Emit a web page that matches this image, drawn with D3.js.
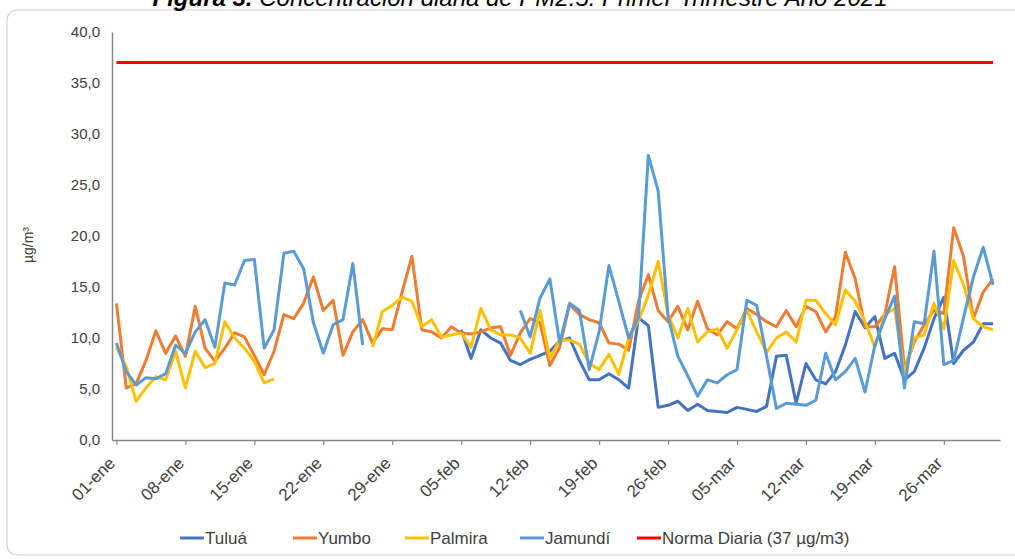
<html>
  <head>
    <script src='https://d3js.org/d3.v7.min.js'></script>
    <style>
      body { margin: 0; background: #fff; }
      text { font-family: 'Liberation Sans', Arial, sans-serif; fill: #404040; }
    </style>
  </head>
  <body>
    <svg width=1015 height=559></svg>
    <script>
      // PM2.5 diario, 01-ene a 31-mar 2021 (90 dias), null = sin dato
      const DAYS = d3.range(90);
      const TICK_DAYS = [0, 7, 14, 21, 28, 35, 42, 49, 56, 63, 70, 77, 84];
      const TICK_LABELS = ['01-ene', '08-ene', '15-ene', '22-ene', '29-ene', '05-feb', '12-feb',
                           '19-feb', '26-feb', '05-mar', '12-mar', '19-mar', '26-mar'];
      const Y_TICKS = [0, 5, 10, 15, 20, 25, 30, 35, 40];
      const NORMA = 37;

      const TULUA = [
        null, null, null, null, null, null, null, null, null, null,
        null, null, null, null, null, null, null, null, null, null,
        null, null, null, null, null, null, null, null, null, null,
        null, null, null, null, null,
        10.8, 8.0, 10.8, 10.0, 9.5, 7.8, 7.4, 7.9, 8.3, 8.7,
        9.7, 10.0, 7.8, 5.9, 5.9, 6.5, 5.9, 5.1, 12.0, 11.2,
        3.2, 3.4, 3.8, 2.9, 3.5, 2.9, 2.8, 2.7, 3.2, 3.0,
        2.8, 3.3, 8.2, 8.3, 3.6, 7.5, 5.9, 5.5, 6.7, 9.3,
        12.6, 11.0, 12.1, 8.0, 8.5, 5.9, 6.7, 9.0, 11.9, 14.0,
        7.5, 8.8, 9.6, 11.4, 11.4
      ];
      const YUMBO = [
        13.4, 5.1, 5.5, 7.8, 10.7, 8.5, 10.2, 8.2, 13.1, 9.0,
        7.7, 9.0, 10.5, 10.1, 8.3, 6.4, 8.7, 12.3,
        11.9, 13.4, 16.0, 12.7, 13.7, 8.3, 10.6, 11.8, 9.5, 10.9,
        10.8, 14.5, 18.0, 10.8, 10.6, 10.0, 11.1, 10.5,
        10.4, 10.6, 11.0, 11.1, 8.3, 10.5, 11.9, 11.5, 7.3, 9.1,
        13.3, 12.3, 11.8, 11.5, 9.5, 9.4, 8.8, 13.6,
        16.2, 12.7, 11.6, 13.1, 10.8, 13.6, 10.9, 10.3, 11.6, 10.9,
        12.9, 12.3, 11.6, 11.1, 12.7, 11.1, 13.1, 12.6,
        10.6, 12.1, 18.4, 15.8, 11.1, 11.1, 12.3, 17.0, 7.0, 9.6,
        11.3, 12.7, 12.4, 20.8, 18.0, 11.9, 14.5, 15.8
      ];
      const PALMIRA = [
        9.1, 7.2, 3.8, 5.1, 6.2, 5.9, 8.7, 5.1, 8.7, 7.1,
        7.5, 11.6, 10.0, 9.0, 7.7, 5.6, 6.0,
        null, null, null, null, null, null, null, null, null,
        9.1, 12.6, 13.2, 14.0, 13.6, 11.1, 11.8, 10.1, 10.3, 10.5,
        9.1, 12.9, 10.8, 10.3, 10.3, 10.0, 8.5, 12.7, 8.0, 9.8,
        9.8, 9.4, 7.5, 6.9, 8.4, 6.4, 10.0, 11.7,
        14.2, 17.5, 12.3, 10.0, 12.9, 9.6, 10.6, 10.9, 9.0, 10.8,
        12.7, 10.6, 8.6, 10.0, 10.6, 9.6, 13.7, 13.7,
        12.4, 11.3, 14.7, 13.6, 11.6, 9.1, 12.3, 12.9, 6.5, 10.0,
        10.3, 13.4, 10.9, 17.6, 15.2, 11.9, 11.1, 10.8
      ];
      const JAMUNDI = [
        9.5, 6.7, 5.4, 6.1, 6.0, 6.5, 9.3, 8.5, 10.6, 11.8,
        9.1, 15.4, 15.2, 17.6, 17.7, 9.0, 10.8, 18.3, 18.5, 16.8,
        11.5, 8.5, 11.3, 11.8, 17.3, 9.3,
        null, null, null, null, null, null, null, null, null, null,
        null, null, null, null, null,
        12.7, 10.1, 13.9, 15.8, 9.5, 13.4, 12.7, 6.9, 10.6, 17.1,
        13.6, 10.0, 12.0,
        27.9, 24.4, 12.1, 8.2, 6.3, 4.3, 5.9, 5.6, 6.4, 6.9,
        13.7, 13.2, 8.2, 3.1, 3.6, 3.5, 3.4, 3.9,
        8.5, 5.9, 6.7, 8.0, 4.7, 9.3, 11.9, 14.1, 5.1, 11.6,
        11.4, 18.5, 7.4, 7.8, 12.0, 16.0, 18.9, 15.2
      ];

      const SERIES = [
        { name: 'Tuluá', values: TULUA, color: '#4472C4' },
        { name: 'Yumbo', values: YUMBO, color: '#ED7D31' },
        { name: 'Palmira', values: PALMIRA, color: '#FFC000' },
        { name: 'Jamundí', values: JAMUNDI, color: '#5B9BD5' },
        { name: 'Norma Diaria (37 µg/m3)', values: DAYS.map(() => NORMA), color: '#FF0000' }
      ];

      const svg = d3.select('svg');

      // marco del grafico
      svg.append('rect')
        .attr('x', 7).attr('y', 10).attr('width', 1040).attr('height', 545)
        .attr('rx', 10)
        .style('fill', 'none').style('stroke', '#d0d0d0').style('stroke-width', 1.2);

      // titulo (en la imagen original queda cortado por arriba)
      const title = svg.append('text')
        .attr('x', 520).attr('y', 6)
        .attr('text-anchor', 'middle')
        .style('font-size', '24px').style('fill', '#000');
      title.append('tspan').style('font-weight', 'bold').style('font-style', 'italic').text('Figura 3. ');
      title.append('tspan').style('font-style', 'italic').text('Concentración diaria de PM2.5. Primer Trimestre Año 2021');

      const x = d3.scaleLinear().domain([-0.45, 89.7]).range([112, 1000]);
      const y = d3.scaleLinear().domain([0, 40]).range([440, 32]);

      // eje Y
      const yAxis = svg.append('g')
        .attr('transform', 'translate(112,0)')
        .call(d3.axisLeft(y).tickValues(Y_TICKS).tickSize(0).tickPadding(12)
          .tickFormat(d => d3.format('.1f')(d).replace('.', ',')));
      yAxis.select('.domain').style('stroke', '#868686').style('stroke-width', 1.5);
      yAxis.selectAll('text').style('font-size', '15px').style('fill', '#404040')
        .style('font-family', "'Liberation Sans', Arial, sans-serif");

      svg.append('text')
        .attr('transform', 'translate(33,245) rotate(-90)')
        .attr('text-anchor', 'middle')
        .style('font-size', '14px')
        .text('µg/m³');

      // eje X
      const xAxis = svg.append('g')
        .attr('transform', 'translate(0,440)')
        .call(d3.axisBottom(x).tickValues(TICK_DAYS).tickSize(5).tickSizeOuter(0)
          .tickFormat((d, i) => TICK_LABELS[i]));
      xAxis.select('.domain').style('stroke', '#868686').style('stroke-width', 1.5);
      xAxis.selectAll('.tick line').style('stroke', '#868686').style('stroke-width', 1.2);
      xAxis.selectAll('text')
        .attr('text-anchor', 'end')
        .attr('x', 0).attr('y', 0).attr('dy', '0.35em')
        .attr('transform', 'translate(-5,20) rotate(-45)')
        .style('font-size', '17px').style('fill', '#404040')
        .style('font-family', "'Liberation Sans', Arial, sans-serif");

      // lineas
      const line = d3.line()
        .defined(d => d != null)
        .x((d, i) => x(i))
        .y(d => y(d));

      svg.selectAll('path.serie').data(SERIES).enter().append('path')
        .attr('class', 'serie')
        .attr('d', d => line(d.values))
        .style('fill', 'none')
        .style('stroke', d => d.color)
        .style('stroke-width', 3)
        .style('stroke-linejoin', 'round');

      // leyenda
      const LEG_X = [205, 318, 430, 545, 662];
      const leg = svg.selectAll('g.leg').data(SERIES).enter().append('g')
        .attr('class', 'leg')
        .attr('transform', (d, i) => 'translate(' + LEG_X[i] + ',538)');
      leg.append('line')
        .attr('x1', -25).attr('x2', -1).attr('y1', 0).attr('y2', 0)
        .style('stroke', d => d.color).style('stroke-width', 3);
      leg.append('text')
        .attr('x', 0).attr('dy', '0.35em')
        .style('font-size', '17px').style('fill', '#404040')
        .text(d => d.name);
    </script>
  </body>
</html>
